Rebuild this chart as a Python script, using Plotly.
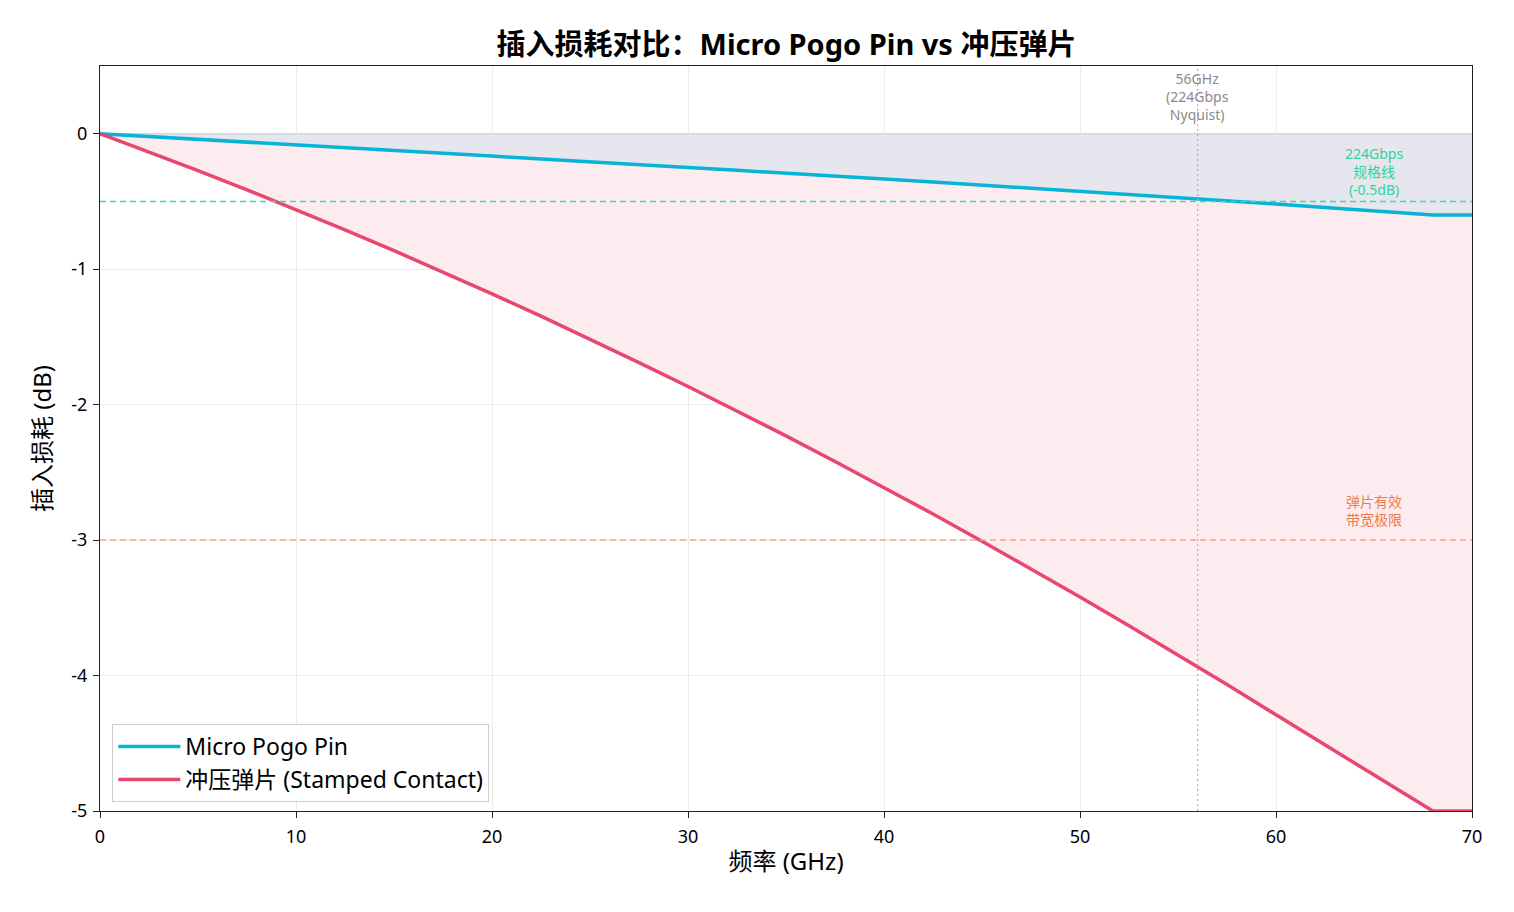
import plotly.graph_objects as go

freq = [0, 2.5, 5, 7.5, 10, 12.5, 15, 17.5, 20, 22.5, 25, 27.5, 30, 32.5, 35, 37.5, 40, 42.5, 45,
        47.5, 50, 52.5, 55, 57.5, 60, 62.5, 65, 68, 70]
pogo_loss = [0, -0.02, -0.04, -0.06, -0.08, -0.10, -0.12, -0.143, -0.165, -0.187, -0.21, -0.23, -0.25,
             -0.27, -0.29, -0.312, -0.335, -0.357, -0.38, -0.40, -0.42, -0.443, -0.466, -0.492, -0.518,
             -0.544, -0.57, -0.60, -0.60]
stamped_loss = [0, -0.134, -0.272, -0.414, -0.56, -0.71, -0.863, -1.02, -1.182, -1.347, -1.516, -1.69,
                -1.866, -2.047, -2.231, -2.42, -2.61, -2.807, -3.008, -3.212, -3.42, -3.632, -3.847,
                -4.067, -4.29, -4.512, -4.735, -5.0, -5.0]
zero_ref = [0] * len(freq)

spec_level = -0.5
limit_level = -3
nyquist_freq = 56

x_ticks = [0, 10, 20, 30, 40, 50, 60, 70]
y_ticks = [0, -1, -2, -3, -4, -5]
y_ticktext = ["0", "-1", "-2", "-3", "-4", "-5"]

FONT = "Noto Sans, Noto Sans CJK SC, sans-serif"

fig = go.Figure()

# fills
fig.add_trace(go.Scatter(x=freq, y=zero_ref, mode="lines", line=dict(color="#d4d4dc", width=1.5),
                         showlegend=False, hoverinfo="skip"))
fig.add_trace(go.Scatter(x=freq, y=pogo_loss, mode="lines", line=dict(width=0),
                         fill="tonexty", fillcolor="#e6e6ee", showlegend=False, hoverinfo="skip"))
fig.add_trace(go.Scatter(x=freq, y=stamped_loss, mode="lines", line=dict(width=0),
                         fill="tonexty", fillcolor="#fdecef", showlegend=False, hoverinfo="skip"))

# lines
fig.add_trace(go.Scatter(x=freq, y=pogo_loss, mode="lines", name="Micro Pogo Pin",
                         line=dict(color="#06b4d8", width=3.5)))
fig.add_trace(go.Scatter(x=freq, y=stamped_loss, mode="lines", name="冲压弹片 (Stamped Contact)",
                         line=dict(color="#e8476f", width=3.5)))

# reference lines
fig.add_shape(type="line", xref="x", yref="y", x0=0, x1=70, y0=spec_level, y1=spec_level,
              line=dict(color="#45d8b0", width=1.5, dash="6px,4px"))
fig.add_shape(type="line", xref="x", yref="y", x0=0, x1=70, y0=limit_level, y1=limit_level,
              line=dict(color="#f0a88e", width=1.5, dash="6px,4px"))
fig.add_shape(type="line", xref="x", yref="paper", x0=nyquist_freq, x1=nyquist_freq, y0=0, y1=1,
              line=dict(color="#b0b0b0", width=1.2, dash="2px,3px"))

fig.add_annotation(x=nyquist_freq, y=0.49, xref="x", yref="y", yanchor="top", showarrow=False,
                   text="56GHz<br>(224Gbps<br>Nyquist)", font=dict(size=14, color="#8a8a8a", family=FONT))
fig.add_annotation(x=65, y=-0.28, xref="x", yref="y", showarrow=False,
                   text="224Gbps<br>规格线<br>(-0.5dB)", font=dict(size=14, color="#2fd49a", family=FONT))
fig.add_annotation(x=65, y=-2.78, xref="x", yref="y", showarrow=False,
                   text="弹片有效<br>带宽极限", font=dict(size=14, color="#f07a4e", family=FONT))

fig.update_layout(
    width=1514, height=912,
    margin=dict(l=100, r=42, t=66, b=101),
    paper_bgcolor="white", plot_bgcolor="white",
    font=dict(family=FONT, size=16, color="black"),
    title=dict(text="<b>插入损耗对比：Micro Pogo Pin vs 冲压弹片</b>", x=0.5195, xanchor="center",
               y=0.951, yanchor="middle", font=dict(size=29, color="black", family=FONT)),
    legend=dict(x=0.009, y=0.012, xanchor="left", yanchor="bottom", bgcolor="rgba(255,255,255,0.9)",
                bordercolor="#cccccc", borderwidth=1, font=dict(size=23, family=FONT),
                traceorder="normal", itemwidth=62, tracegroupgap=5),
    showlegend=True,
)
fig.update_xaxes(range=[0, 70], tickvals=x_ticks, showgrid=True, gridcolor="#ececec", gridwidth=1,
                 showline=True, linecolor="#222222", linewidth=1.3, mirror=True,
                 ticks="outside", ticklen=6, tickcolor="#222222", zeroline=False,
                 ticklabelstandoff=3,
                 title=dict(text="频率 (GHz)", font=dict(size=24, family=FONT), standoff=6),
                 tickfont=dict(size=18, family=FONT))
fig.update_yaxes(range=[-5, 0.5], tickvals=y_ticks, ticktext=y_ticktext, showgrid=True, gridcolor="#ececec",
                 gridwidth=1, showline=True, linecolor="#222222", linewidth=1.3, mirror=True,
                 ticks="outside", ticklen=6, tickcolor="#222222", zeroline=False,
                 ticklabelstandoff=2,
                 title=dict(text="插入损耗 (dB)", font=dict(size=24, family=FONT), standoff=12),
                 tickfont=dict(size=18, family=FONT))

fig.write_html("out.html")
